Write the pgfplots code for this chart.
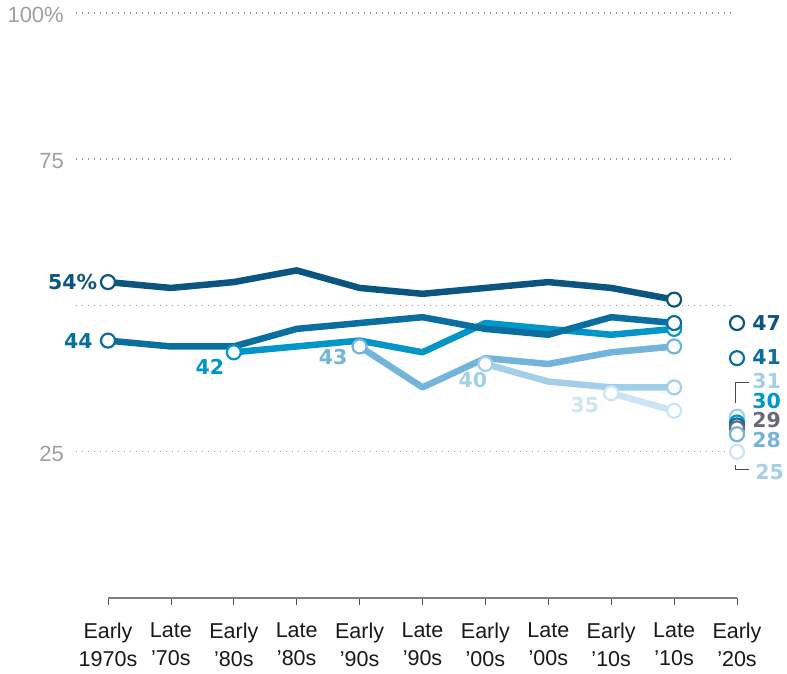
\documentclass[border=0pt]{standalone}
\usepackage{fontspec}
\setmainfont{Liberation Sans}
\newfontfamily\labfont{DejaVu Sans}
\usepackage{pgfplots}
\pgfplotsset{compat=1.18}

\definecolor{c1}{HTML}{0B5680}
\definecolor{c2}{HTML}{0A6EA0}
\definecolor{c3}{HTML}{0096C8}
\definecolor{c4}{HTML}{72B4DA}
\definecolor{c5}{HTML}{A3CFE9}
\definecolor{c6}{HTML}{CCE5F4}
\definecolor{cgray}{HTML}{6D6679}
\definecolor{gridc}{HTML}{9A9A9A}
\definecolor{tickc}{HTML}{A0A0A0}

\pgfplotsset{
  ser/.style={#1, line width=6.5pt, line join=round, line cap=round},
  circ/.style={only marks, mark=*, mark size=7pt,
    mark options={fill=white, draw=#1, line width=2.2pt}},
}
\tikzset{lab/.style={font=\labfont\fontsize{20.5}{22}\selectfont\bfseries, text=#1,
  inner sep=0pt, text height=15pt, text depth=0pt}}

\begin{document}
\begin{tikzpicture}
\useasboundingbox (-108pt,-76pt) rectangle (679pt,598pt);
\begin{axis}[
  at={(0,0)}, anchor=origin,
  scale only axis, width=629pt, height=585pt,
  xmin=0, xmax=10, ymin=0, ymax=100,
  clip=false,
  axis x line*=bottom, axis y line*=left,
  x axis line style={-, draw=gray, line width=1.5pt},
  y axis line style={draw=none},
  xtick={0,...,10},
  xticklabels={Early\\1970s, Late\\’70s, Early\\’80s, Late\\’80s, Early\\’90s,
    Late\\’90s, Early\\’00s, Late\\’00s, Early\\’10s, Late\\’10s, Early\\’20s},
  tick align=outside, major tick length=7pt,
  xtick style={draw=black!70, line width=0.8pt},
  xticklabel style={align=center, font=\fontsize{21.5}{28}\selectfont, text=black!90, yshift=-14.5pt},
  ytick={25,75,100}, yticklabels={25,75,100\%},
  ytick style={draw=none},
  yticklabel style={anchor=east, inner sep=0pt, xshift=-37pt, yshift=-2pt, text=tickc,
    font=\fontsize{22}{24}\selectfont},
  /pgf/number format/assume math mode=true,
]
% dotted gridlines
\foreach \g in {25,50,75,100}{
  \edef\tmp{\noexpand\draw[gridc, line width=1.5pt, dash pattern=on 1.5pt off 4.5pt]
    (axis cs:-0.51,\g) -- (axis cs:9.97,\g);}\tmp
}

% lightest to darkest
\addplot[ser=c6] coordinates {(8,35) (9,32)};
\addplot[circ=c6] coordinates {(8,35) (9,32)};

\addplot[ser=c5] coordinates {(6,40) (7,37) (8,36) (9,36)};
\addplot[circ=c5] coordinates {(6,40) (9,36)};

\addplot[ser=c4] coordinates {(4,43) (5,36) (6,41) (7,40) (8,42) (9,43)};
\addplot[circ=c4] coordinates {(4,43) (9,43)};

\addplot[ser=c3] coordinates {(2,42) (3,43) (4,44) (5,42) (6,47) (7,46) (8,45) (9,46)};
\addplot[circ=c3] coordinates {(2,42) (9,46)};

\addplot[ser=c2] coordinates {(0,44) (1,43) (2,43) (3,46) (4,47) (5,48) (6,46) (7,45) (8,48) (9,47)};
\addplot[circ=c2] coordinates {(0,44) (9,47)};

\addplot[ser=c1] coordinates {(0,54) (1,53) (2,54) (3,56) (4,53) (5,52) (6,53) (7,54) (8,53) (9,51)};
\addplot[circ=c1] coordinates {(0,54) (9,51)};

% Early '20s
\addplot[circ=c1] coordinates {(10,47)};
\addplot[circ=c2] coordinates {(10,41)};
\addplot[circ=c5] coordinates {(10,31)};
\addplot[circ=c3] coordinates {(10,30)};
\addplot[circ=c2] coordinates {(10,29.5)};
\addplot[circ=cgray] coordinates {(10,29)};
\addplot[circ=c4] coordinates {(10,28)};
\addplot[circ=c6] coordinates {(10,25)};

% start labels
\node[lab=c1, anchor=east] at (axis cs:-0.17,54) {54\%};
\node[lab=c2, anchor=east] at (axis cs:-0.24,44) {44};
\node[lab=c3] at (axis cs:1.62,39.5) {42};
\node[lab=c4] at (axis cs:3.58,41.2) {43};
\node[lab=c5] at (axis cs:5.8,37.3) {40};
\node[lab=c6] at (axis cs:7.58,33) {35};

% end labels
\node[lab=c1, anchor=west] at (axis cs:10.24,47) {47};
\node[lab=c2, anchor=west] at (axis cs:10.24,41.2) {41};
\node[lab=c5, anchor=west] at (axis cs:10.24,37.1) {31};
\node[lab=c3, anchor=west] at (axis cs:10.24,33.7) {30};
\node[lab=cgray, anchor=west] at (axis cs:10.24,30.4) {29};
\node[lab=c4, anchor=west] at (axis cs:10.24,27.0) {28};
\node[lab=c5, anchor=west] at (axis cs:10.29,21.5) {25};

% bracket
\draw[black!70, line width=1.2pt] (axis cs:10.19,36.8) -- (axis cs:9.98,36.8) -- (axis cs:9.98,33.3);
\draw[black!70, line width=1.2pt] (axis cs:9.98,22.7) -- (axis cs:9.98,21.9) -- (axis cs:10.19,21.9);
\end{axis}
\end{tikzpicture}
\end{document}
